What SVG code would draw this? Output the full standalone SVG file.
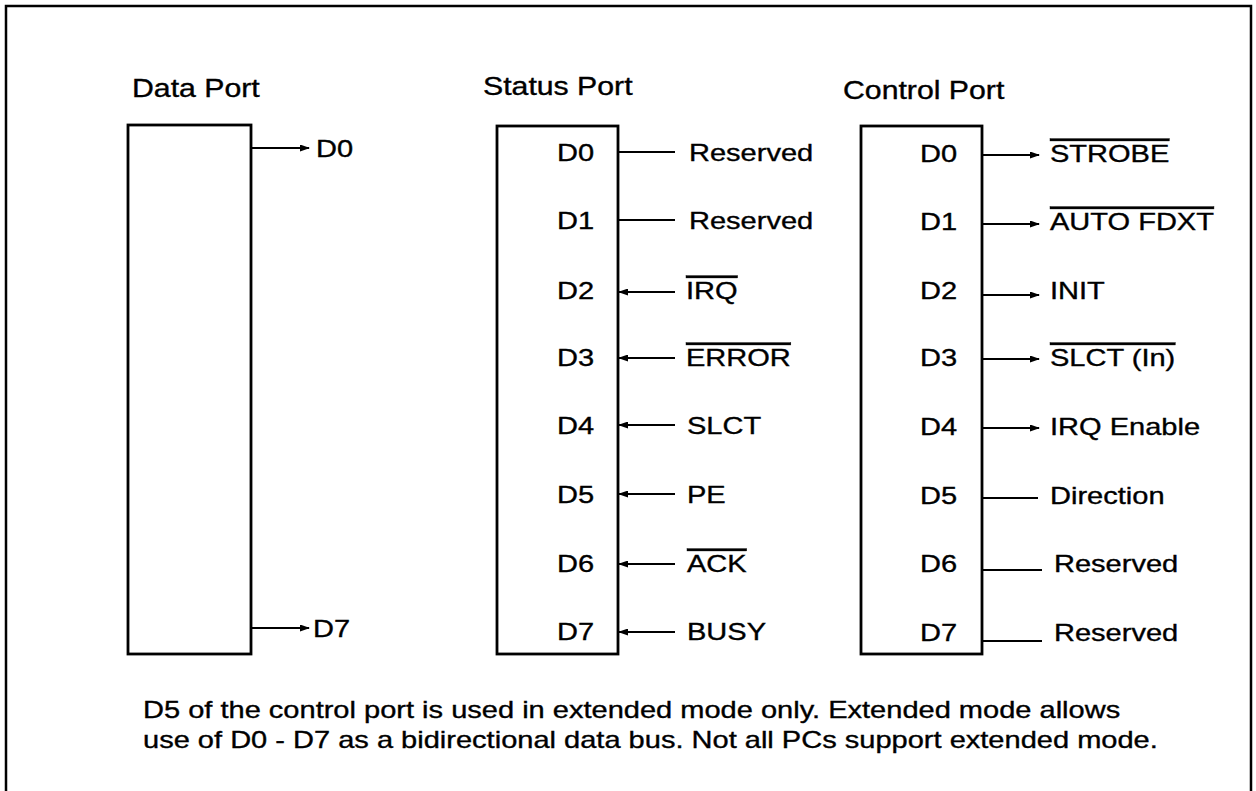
<svg xmlns="http://www.w3.org/2000/svg" width="1256" height="791" viewBox="0 0 1256 791">
<defs>
<style>
text{font-family:"Liberation Sans",Arial,Helvetica,sans-serif;font-size:24px;fill:#000;stroke:#000;stroke-width:0.35}
.title{font-size:25px}
.ol{text-decoration:overline}
.box{fill:none;stroke:#000;stroke-width:2.8}
.frame{fill:none;stroke:#000;stroke-width:2.5}
.wire{fill:none;stroke:#000;stroke-width:2.2}
.arr{marker-end:url(#ah)}
</style>
<marker id="ah" markerUnits="userSpaceOnUse" markerWidth="10" markerHeight="7" refX="9" refY="3.5" orient="auto">
<path d="M0,0 L10,3.5 L0,7 Z" fill="#000"/>
</marker>
</defs>
<rect width="1256" height="791" fill="#fff"/>
<path class="frame" d="M6,795 V6 H1251 V795"/>

<g id="data-port">
<text class="title" transform="translate(132 97) scale(1.21 1)">Data Port</text>
<rect class="box" x="128" y="125" width="123" height="529"/>
<text transform="translate(316 157) scale(1.21 1)">D0</text>
<text transform="translate(313 637) scale(1.21 1)">D7</text>
</g>

<g id="status-port">
<text class="title" transform="translate(483 95) scale(1.21 1)">Status Port</text>
<rect class="box" x="497" y="126" width="121" height="528"/>
<text transform="translate(557 161) scale(1.21 1)">D0</text>
<text transform="translate(557 229) scale(1.21 1)">D1</text>
<text transform="translate(557 299) scale(1.21 1)">D2</text>
<text transform="translate(557 366) scale(1.21 1)">D3</text>
<text transform="translate(557 434) scale(1.21 1)">D4</text>
<text transform="translate(557 503) scale(1.21 1)">D5</text>
<text transform="translate(557 572) scale(1.21 1)">D6</text>
<text transform="translate(557 640) scale(1.21 1)">D7</text>
<text transform="translate(689 161) scale(1.21 1)">Reserved</text>
<text transform="translate(689 229) scale(1.21 1)">Reserved</text>
<text class="ol" transform="translate(686 299) scale(1.21 1)">IRQ</text>
<text class="ol" transform="translate(686 366) scale(1.21 1)">ERROR</text>
<text transform="translate(687 434) scale(1.21 1)">SLCT</text>
<text transform="translate(687 503) scale(1.21 1)">PE</text>
<text class="ol" transform="translate(687 572) scale(1.21 1)">ACK</text>
<text transform="translate(687 640) scale(1.21 1)">BUSY</text>
</g>

<g id="control-port">
<text class="title" transform="translate(843 99) scale(1.21 1)">Control Port</text>
<rect class="box" x="861" y="126" width="121" height="528"/>
<text transform="translate(920 162) scale(1.21 1)">D0</text>
<text transform="translate(920 230) scale(1.21 1)">D1</text>
<text transform="translate(920 299) scale(1.21 1)">D2</text>
<text transform="translate(920 366) scale(1.21 1)">D3</text>
<text transform="translate(920 435) scale(1.21 1)">D4</text>
<text transform="translate(920 504) scale(1.21 1)">D5</text>
<text transform="translate(920 572) scale(1.21 1)">D6</text>
<text transform="translate(920 641) scale(1.21 1)">D7</text>
<text class="ol" transform="translate(1050 162) scale(1.21 1)">STROBE</text>
<text class="ol" transform="translate(1050 230) scale(1.21 1)">AUTO FDXT</text>
<text transform="translate(1050 299) scale(1.21 1)">INIT</text>
<text class="ol" transform="translate(1050 366) scale(1.21 1)">SLCT (In)</text>
<text transform="translate(1050 435) scale(1.21 1)">IRQ Enable</text>
<text transform="translate(1050 504) scale(1.21 1)">Direction</text>
<text transform="translate(1054 572) scale(1.21 1)">Reserved</text>
<text transform="translate(1054 641) scale(1.21 1)">Reserved</text>
</g>

<g id="connectors">
<line class="wire arr" x1="251" y1="148" x2="309" y2="148"/>
<line class="wire arr" x1="251" y1="628" x2="309" y2="628"/>

<line class="wire" x1="618" y1="152" x2="675" y2="152"/>
<line class="wire" x1="618" y1="220" x2="675" y2="220"/>
<line class="wire arr" x1="675" y1="292" x2="619" y2="292"/>
<line class="wire arr" x1="675" y1="358" x2="619" y2="358"/>
<line class="wire arr" x1="675" y1="425" x2="619" y2="425"/>
<line class="wire arr" x1="675" y1="494" x2="619" y2="494"/>
<line class="wire arr" x1="675" y1="564" x2="619" y2="564"/>
<line class="wire arr" x1="675" y1="632" x2="619" y2="632"/>

<line class="wire arr" x1="982" y1="155" x2="1039" y2="155"/>
<line class="wire arr" x1="982" y1="224" x2="1039" y2="224"/>
<line class="wire arr" x1="982" y1="295" x2="1039" y2="295"/>
<line class="wire arr" x1="982" y1="359" x2="1039" y2="359"/>
<line class="wire arr" x1="982" y1="428" x2="1039" y2="428"/>
<line class="wire" x1="982" y1="498" x2="1038" y2="498"/>
<line class="wire" x1="982" y1="570" x2="1042" y2="570"/>
<line class="wire" x1="982" y1="641" x2="1042" y2="641"/>
</g>

<g id="note">
<text transform="translate(143 718) scale(1.21 1)">D5 of the control port is used in extended mode only. Extended mode allows</text>
<text transform="translate(143 748) scale(1.21 1)">use of D0 - D7 as a bidirectional data bus. Not all PCs support extended mode.</text>
</g>
</svg>
